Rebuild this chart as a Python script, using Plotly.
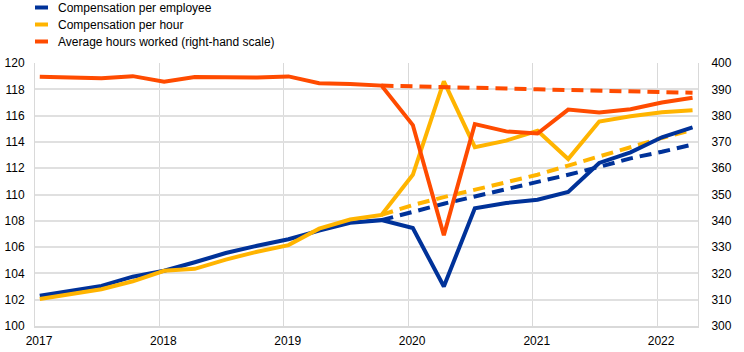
import plotly.graph_objects as go

quarters = ["2017Q1","2017Q2","2017Q3","2017Q4","2018Q1","2018Q2","2018Q3","2018Q4",
            "2019Q1","2019Q2","2019Q3","2019Q4","2020Q1","2020Q2","2020Q3","2020Q4",
            "2021Q1","2021Q2","2021Q3","2021Q4","2022Q1","2022Q2"]

comp_employee = [102.3,102.7,103.05,103.75,104.2,104.85,105.55,106.1,
                 106.6,107.25,107.85,108.05,107.45,103.0,108.95,109.35,
                 109.6,110.2,112.4,113.2,114.35,115.1]
comp_hour = [102.05,102.45,102.8,103.4,104.2,104.35,105.05,105.65,
             106.15,107.4,108.1,108.45,111.5,118.6,113.6,114.1,
             114.85,112.7,115.55,115.95,116.25,116.4]
hours = [394.8,394.5,394.2,395.0,392.9,394.7,394.6,394.5,
         394.9,392.3,392.0,391.4,376.4,334.5,376.8,374.0,
         373.2,382.3,381.2,382.4,385.0,386.8]

# counterfactual trends from 2019Q4 onwards
trend_quarters = quarters[11:]
trend_employee = [108.05,108.7,109.3,109.85,110.4,110.9,111.5,112.1,112.75,113.25,113.8]
trend_hour = [108.45,109.2,109.8,110.35,110.9,111.5,112.2,112.9,113.6,114.3,114.9]
trend_hours = [391.4,391.2,391.0,390.5,390.3,390.0,389.8,389.5,389.3,389.0,388.7]

series_names = ["Compensation per employee", "Compensation per hour",
                "Average hours worked (right-hand scale)"]
x_ticks = ["2017","2018","2019","2020","2021","2022"]

BLUE = "#003299"
YELLOW = "#FFB400"
ORANGE = "#FF4B00"

def qdate(q):
    y, n = q.split("Q")
    m = (int(n) - 1) * 3 + 1
    return f"{y}-{m:02d}-15"

x_all = [qdate(q) for q in quarters]
x_tr = [qdate(q) for q in trend_quarters]

fig = go.Figure()
dash = "12px,7px"
fig.add_trace(go.Scatter(x=x_tr, y=trend_employee, mode="lines",
                         line=dict(color=BLUE, width=4, dash=dash), showlegend=False))
fig.add_trace(go.Scatter(x=x_tr, y=trend_hour, mode="lines",
                         line=dict(color=YELLOW, width=4, dash=dash), showlegend=False))
fig.add_trace(go.Scatter(x=x_all, y=comp_employee, mode="lines",
                         line=dict(color=BLUE, width=4), showlegend=False))
fig.add_trace(go.Scatter(x=x_all, y=comp_hour, mode="lines",
                         line=dict(color=YELLOW, width=4), showlegend=False))
fig.add_trace(go.Scatter(x=x_tr, y=trend_hours, mode="lines", yaxis="y2",
                         line=dict(color=ORANGE, width=4, dash=dash), showlegend=False))
fig.add_trace(go.Scatter(x=x_all, y=hours, mode="lines", yaxis="y2",
                         line=dict(color=ORANGE, width=4), showlegend=False))

# manual legend
L, R, T, B = 35, 46, 63, 26
W, H = 744, 352
pw, ph = W - L - R, H - T - B
def px2paper(xp, yp):
    return (xp - L) / pw, (H - B - yp) / ph

shapes = []
annotations = []
for i, (name, col) in enumerate(zip(series_names, [BLUE, YELLOW, ORANGE])):
    yp = 7.5 + i * 17
    x0, y0 = px2paper(35, yp)
    x1, _ = px2paper(48, yp)
    shapes.append(dict(type="line", xref="paper", yref="paper", x0=x0, x1=x1, y0=y0, y1=y0,
                       line=dict(color=col, width=4)))
    xa, ya = px2paper(56, yp)
    annotations.append(dict(text=name, xref="paper", yref="paper", x=xa, y=ya,
                            xanchor="left", yanchor="middle", showarrow=False,
                            font=dict(size=12, color="#000000")))

fig.update_layout(
    width=W, height=H,
    margin=dict(l=L, r=R, t=T, b=B),
    paper_bgcolor="white", plot_bgcolor="white",
    font=dict(family="Liberation Sans, Arial, sans-serif", size=12, color="#000000"),
    shapes=shapes, annotations=annotations,
    xaxis=dict(type="date", range=["2017-01-01", "2022-05-01"],
               tickvals=[f"{t}-01-01" for t in x_ticks], ticktext=x_ticks,
               showgrid=True, gridcolor="#d9d9d9", gridwidth=1,
               showline=True, linecolor="#d9d9d9", linewidth=2,
               ticks="outside", ticklen=3, tickcolor="rgba(0,0,0,0)",
               ticklabelshift=4, zeroline=False, automargin=False),
    yaxis=dict(range=[100, 120], dtick=2, tick0=100,
               showgrid=True, gridcolor="#e0e0e0", gridwidth=2,
               showline=True, linecolor="#d9d9d9", linewidth=1,
               ticks="outside", ticklen=7, tickcolor="rgba(0,0,0,0)",
               zeroline=False, automargin=False),
    yaxis2=dict(range=[300, 400], dtick=10, tick0=300, overlaying="y", side="right",
                showgrid=False, showline=True, linecolor="#d9d9d9", linewidth=1,
                ticks="outside", ticklen=10, tickcolor="rgba(0,0,0,0)",
                zeroline=False, automargin=False),
)

fig.write_html("out.html")
